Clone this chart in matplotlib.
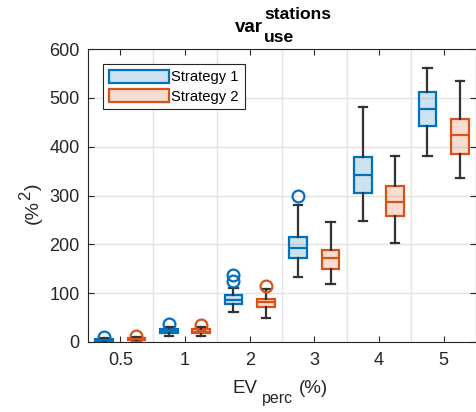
import matplotlib
matplotlib.use('Agg')
import matplotlib.pyplot as plt
from matplotlib.patches import Patch
import numpy as np

plt.rcParams['font.family'] = ['Liberation Sans', 'DejaVu Sans']

# ---- data ----
categories = ['0.5', '1', '2', '3', '4', '5']
series_names = ['Strategy 1', 'Strategy 2']

s1_whislo = [1, 12, 62, 134, 247, 381]
s1_q1 = [3, 18, 77, 171, 305, 442]
s1_med = [5, 22, 87, 193, 342, 477]
s1_q3 = [7, 26, 96, 216, 378, 512]
s1_whishi = [9, 31, 111, 281, 482, 561]
s1_fliers = [[10], [37], [137, 124], [299], [], []]

s2_whislo = [2, 12, 50, 119, 202, 336]
s2_q1 = [4, 18, 72, 149, 258, 386]
s2_med = [7, 21, 81, 171, 287, 423]
s2_q3 = [9, 26, 89, 188, 319, 457]
s2_whishi = [11, 30, 108, 246, 381, 534]
s2_fliers = [[12], [35], [115], [], [], []]

y_ticks = [0, 100, 200, 300, 400, 500, 600]

blue = '#0072BD'
orange = '#D95319'
axcol = '#262626'
whiskcol = '#333333'

W, H = 477, 412


def px(x, y):
    return x / W, 1 - y / H


def make_stats(lo, q1, med, q3, hi, fl):
    return [dict(whislo=a, q1=b, med=c, q3=d, whishi=e, fliers=f)
            for a, b, c, d, e, f in zip(lo, q1, med, q3, hi, fl)]


fig = plt.figure(figsize=(W / 100, H / 100), dpi=100)
ax = fig.add_axes([88 / W, 70 / H, 388 / W, 293 / H])

pos = np.arange(1, len(categories) + 1)
off = 0.25
bw = 0.27

for stats, color, sgn in [
    (make_stats(s1_whislo, s1_q1, s1_med, s1_q3, s1_whishi, s1_fliers), blue, -1),
    (make_stats(s2_whislo, s2_q1, s2_med, s2_q3, s2_whishi, s2_fliers), orange, 1),
]:
    rgba = matplotlib.colors.to_rgba(color, 0.2)
    ax.bxp(stats, positions=pos + sgn * off, widths=bw, patch_artist=True,
           capwidths=0.13, manage_ticks=False,
           boxprops=dict(facecolor=rgba, edgecolor=color, linewidth=1.6),
           medianprops=dict(color=color, linewidth=1.6),
           whiskerprops=dict(color=whiskcol, linewidth=1.6, linestyle='-'),
           capprops=dict(color=whiskcol, linewidth=1.6),
           flierprops=dict(marker='o', markerfacecolor='none',
                           markeredgecolor=color, markersize=8.5,
                           markeredgewidth=1.6, linestyle='none'))

ax.set_xlim(0.5, len(categories) + 0.5)
ax.set_ylim(0, 600)
ax.set_xticks(pos)
ax.set_xticklabels(categories)
ax.set_xticks(pos[:-1] + 0.5, minor=True)
ax.set_yticks(y_ticks)

ax.set_axisbelow(True)
ax.grid(False)
ax.yaxis.grid(True, which='major', color='#E3E3E3', linewidth=1.0)
ax.xaxis.grid(True, which='minor', color='#E3E3E3', linewidth=1.0)

ax.tick_params(axis='both', which='major', direction='in', length=4.5,
               width=0.8, color=axcol, labelcolor=axcol, labelsize=13,
               top=True, right=True)
ax.tick_params(axis='x', which='major', pad=7)
ax.tick_params(axis='y', which='major', pad=6)
ax.tick_params(axis='x', which='minor', length=0, top=False, bottom=False)
for sp in ax.spines.values():
    sp.set_color(axcol)
    sp.set_linewidth(0.8)

# ---- title: var^{stations}_{use} (bold) ----
fig.text(*px(263, 32), 'var', fontsize=13.5, fontweight='bold',
         ha='right', va='baseline', color='black')
fig.text(*px(264, 19), 'stations', fontsize=12.6, fontweight='bold',
         ha='left', va='baseline', color='black')
fig.text(*px(264, 42), 'use', fontsize=12.6, fontweight='bold',
         ha='left', va='baseline', color='black')

# ---- x label: EV_{perc} (%) ----
fig.text(*px(233, 393), 'EV', fontsize=13.5, ha='left', va='baseline',
         color=axcol)
fig.text(*px(262, 403), 'perc', fontsize=11.5, ha='left', va='baseline',
         color=axcol)
fig.text(*px(299, 393), '(%)', fontsize=13.5, ha='left', va='baseline',
         color=axcol)

# ---- y label: (%^2), rotated, composed piece by piece ----
renderer = fig.canvas.get_renderer()
base_x = 38        # baseline x (pixels)
y_cur = 224        # start (bottom) y in pixels from top
for txt, fs, shift in [('(%', 14, 0), ('2', 12, -8), (')', 14, 0)]:
    t = fig.text(*px(base_x + shift, y_cur), txt, fontsize=fs, rotation=90,
                 ha='left', va='baseline', rotation_mode='anchor',
                 color=axcol)
    ext = t.get_window_extent(renderer)
    y_cur -= ext.height + (1 if txt == '2' else 0)

handles = [Patch(facecolor=matplotlib.colors.to_rgba(c, 0.2), edgecolor=c,
                 linewidth=1.6) for c in (blue, orange)]
leg = ax.legend(handles, series_names, loc='upper left',
                bbox_to_anchor=(15 / 388, (342 - 64) / 293), borderaxespad=0,
                fontsize=10.6, handlelength=4.05, handleheight=0.95,
                handletextpad=0.2, labelspacing=0.33, borderpad=0.4,
                fancybox=False, framealpha=1, edgecolor=axcol)
leg.get_frame().set_linewidth(0.8)

fig.savefig('out.png', dpi=100)
